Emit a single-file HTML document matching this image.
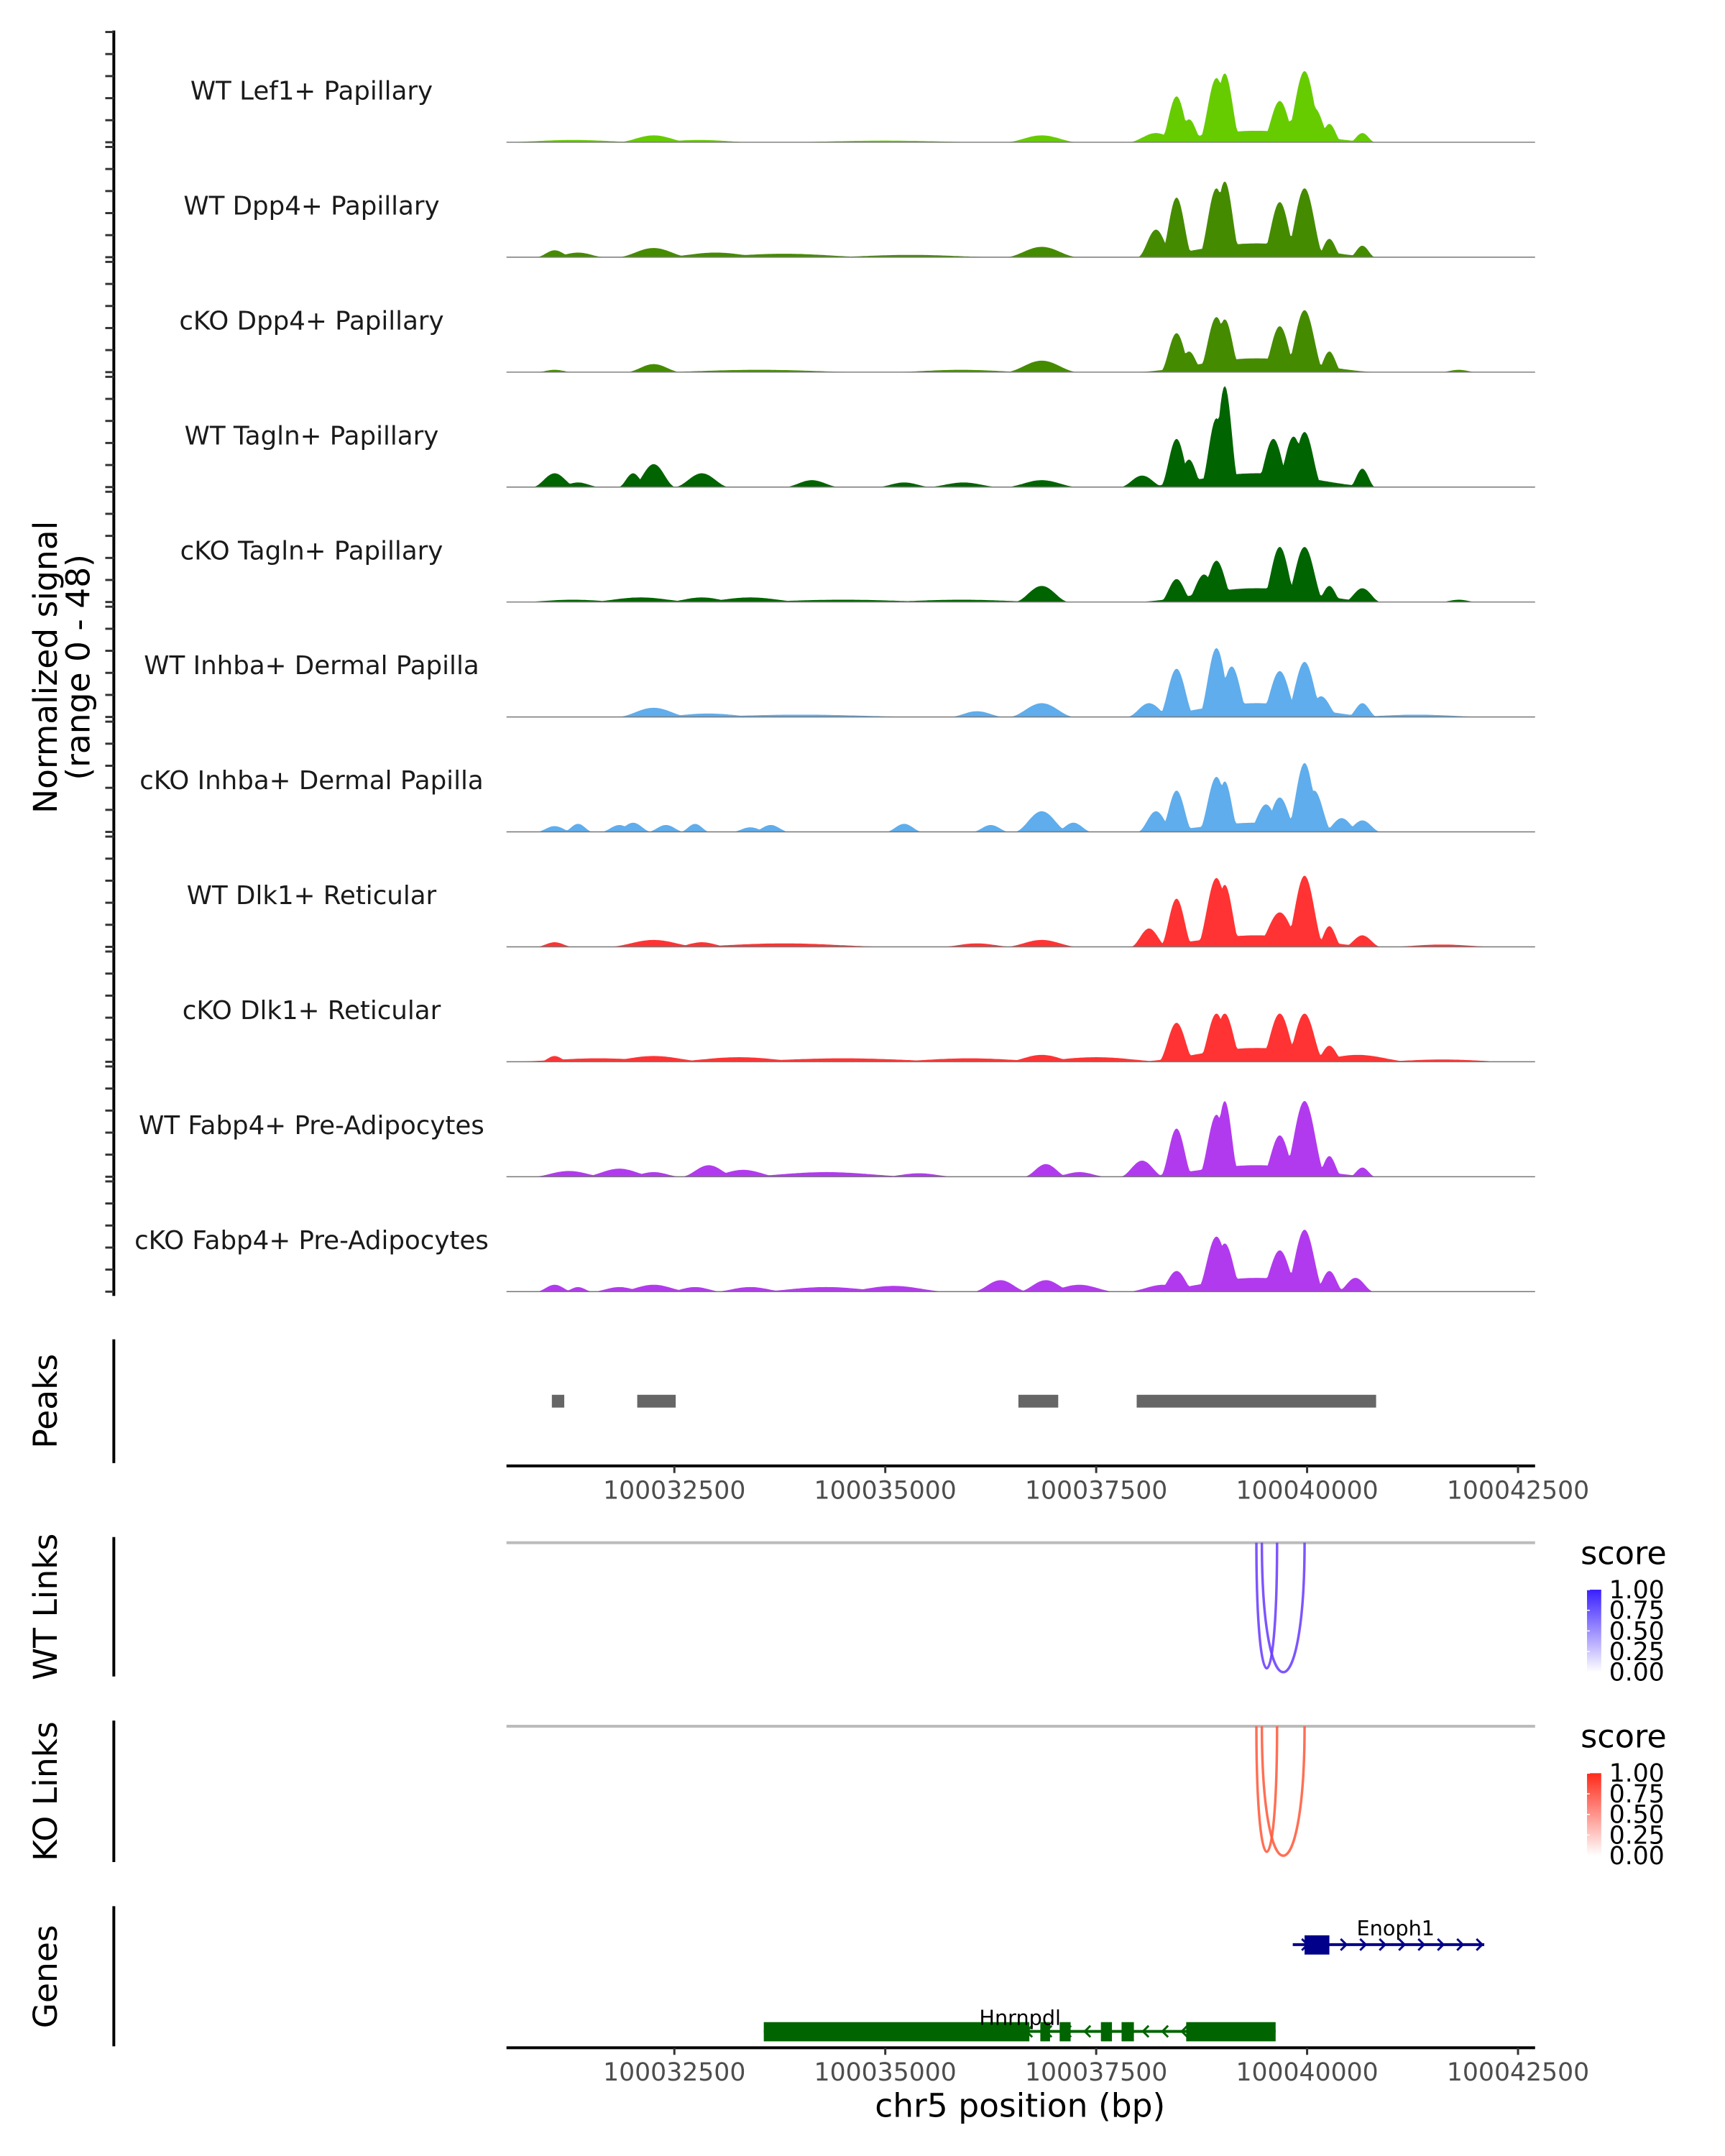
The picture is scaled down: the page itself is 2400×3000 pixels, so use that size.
<!DOCTYPE html>
<html><head><meta charset="utf-8"><style>
html,body{margin:0;padding:0;background:#fff;}
svg{display:block;font-family:"DejaVu Sans","Liberation Sans",sans-serif;}
</style></head><body>
<svg id="chart" width="2400" height="3000" viewBox="0 0 2400 3000" xmlns="http://www.w3.org/2000/svg">
<defs>
<linearGradient id="gBlue" x1="0" y1="1" x2="0" y2="0"><stop offset="0" stop-color="#ffffff"/><stop offset="1" stop-color="#3a1fff"/></linearGradient>
<linearGradient id="gRed" x1="0" y1="1" x2="0" y2="0"><stop offset="0" stop-color="#ffffff"/><stop offset="1" stop-color="#ff2a1a"/></linearGradient>
</defs>
<g transform="scale(0.9897)">
<g id="tracks"></g>
<g>
<text transform="translate(80,938) rotate(-90)" text-anchor="middle" font-size="46" fill="#000">Normalized signal</text>
<text transform="translate(126,938) rotate(-90)" text-anchor="middle" font-size="46" fill="#000">(range 0 - 48)</text>
</g>
<g id="peaks"></g>
<g id="links"></g>
<g id="genes"></g>
</g>
</svg>
<script>
const regionStart = 100030510, regionEnd = 100042700;
const tickValues = [100032500, 100035000, 100037500, 100040000, 100042500];
const trackNames = ["WT Lef1+ Papillary","WT Dpp4+ Papillary","cKO Dpp4+ Papillary","WT Tagln+ Papillary","cKO Tagln+ Papillary","WT Inhba+ Dermal Papilla","cKO Inhba+ Dermal Papilla","WT Dlk1+ Reticular","cKO Dlk1+ Reticular","WT Fabp4+ Pre-Adipocytes","cKO Fabp4+ Pre-Adipocytes"];
const trackColors = ["#66cc00","#458b00","#458b00","#006400","#006400","#5fadec","#5fadec","#ff3333","#ff3333","#b23aee","#b23aee"];
const yMax = 48;
// peaks per track: [bp, value, halfwidth bp]
const t1 = [[100031300,1,400],[100032255,3,200],[100032800,1,300],[100035000,0.7,600],[100036855,3,200],[100038209,4,150],[100038453,20,90],[100038600,10,80],[100038926,28,100],[100039024,30,90],[100039676,18,100],[100039840,10,100],[100039970,31,110],[100040084,15,100],[100040264,8,70],[100040655,4,70],[100039400,5,1500]];
const t2 = [[100031081,3,100],[100031358,2,150],[100032255,4,200],[100032989,2,300],[100033800,1.5,500],[100035300,1,500],[100036855,4.5,200],[100038209,12,100],[100038453,26,90],[100038926,30,100],[100039024,33,90],[100039676,24,100],[100039970,30,110],[100040264,8,70],[100040655,5,70],[100039400,6,1500]];
const t3 = [[100031081,1,100],[100032255,3.5,150],[100033500,1,600],[100035900,1,400],[100036855,5,200],[100038453,17,90],[100038600,9,80],[100038926,24,100],[100039024,23,90],[100039676,20,100],[100039970,27,110],[100040264,9,70],[100039400,6,1500],[100041797,1,100]];
const t4 = [[100031081,6,120],[100031358,2,120],[100032011,6,80],[100032255,10,120],[100032826,6,150],[100034131,3,150],[100035224,2,150],[100035925,2,200],[100036855,3,200],[100038045,5,120],[100038453,21,90],[100038600,12,80],[100038926,30,90],[100039024,44,80],[100039600,21,100],[100039840,22,100],[100039970,24,100],[100040655,8,70],[100039400,6,1500]];
const t5 = [[100031300,1,300],[100032100,2,300],[100032826,2,200],[100033400,2,300],[100034500,1,600],[100035900,1,500],[100036855,7,150],[100038453,10,90],[100038779,12,100],[100038926,18,100],[100039676,24,100],[100039970,24,110],[100040264,7,70],[100040655,6,100],[100041797,1,100],[100039400,6,1500]];
const t6 = [[100032255,4,200],[100032900,1.5,300],[100034000,1,700],[100036088,2.5,150],[100036855,6,180],[100038127,6,120],[100038453,21,100],[100038926,30,100],[100039106,22,100],[100039676,20,110],[100039970,24,110],[100040166,9,100],[100040655,6,80],[100041300,1,400],[100039400,6,1500]];
const t7 = [[100031081,2.5,100],[100031358,3.5,80],[100031848,3,100],[100032011,4,100],[100032400,3,100],[100032745,3.5,80],[100033400,2,100],[100033642,3,100],[100035224,3.5,100],[100036251,3,100],[100036855,9,150],[100037230,4,100],[100038209,9,100],[100038453,18,90],[100038926,24,100],[100039024,22,80],[100039513,12,100],[100039676,15,100],[100039970,30,100],[100040084,18,100],[100040410,6,100],[100040655,5,100],[100039400,4,1400]];
const t8 = [[100031081,2,100],[100032255,3,250],[100032826,2,150],[100033800,1.5,600],[100036088,1.5,200],[100036855,3,200],[100038127,8,100],[100038453,21,90],[100038926,30,110],[100039024,27,90],[100039676,15,130],[100039970,31,110],[100040264,9,70],[100040655,5,100],[100041600,1,300],[100039400,5,1500]];
const t9 = [[100031081,2.5,80],[100031600,1.5,500],[100032255,2.5,300],[100033267,2,400],[100034500,1.5,700],[100036000,1.5,500],[100036855,3,200],[100037500,2,400],[100038453,17,100],[100038926,21,100],[100039024,21,100],[100039676,21,110],[100039970,21,110],[100040264,7,80],[100040600,3,300],[100041600,1,400],[100039400,6,1500]];
const t10 = [[100031250,2.5,200],[100031848,3.5,200],[100032255,2,150],[100032908,5,150],[100033316,3,200],[100034300,2,500],[100035400,1.5,200],[100036904,5.5,120],[100037300,2,150],[100038045,7,120],[100038453,21,90],[100038926,27,100],[100039024,33,80],[100039676,18,100],[100039970,33,120],[100040264,9,70],[100040655,4,70],[100039400,5,1500]];
const t11 = [[100031081,3,100],[100031358,2,80],[100031848,2,150],[100032255,3,200],[100032745,2,150],[100033400,2,200],[100034300,2,400],[100035100,2.5,300],[100036366,5,150],[100036904,5,150],[100037300,3,200],[100038300,3,200],[100038453,9,100],[100038926,24,110],[100039024,21,100],[100039676,18,110],[100039970,27,110],[100040264,9,80],[100040574,6,100],[100039400,6,1400]];
const trackPeaks = [t1,t2,t3,t4,t5,t6,t7,t8,t9,t10,t11];
const peakStarts = [100031048, 100032060, 100036578, 100037980];
const peakEnds = [100031195, 100032516, 100037050, 100040818];
const wtLinkStart = [100039399, 100039464];
const wtLinkEnd = [100039644, 100039970];
const wtLinkScore = [0.75, 0.75];
const koLinkStart = [100039399, 100039464];
const koLinkEnd = [100039644, 100039970];
const koLinkScore = [0.75, 0.75];
const legendTicks = ["1.00","0.75","0.50","0.25","0.00"];
const enophExons = [[100039970, 100040264]];
const hnrnpdlExons = [[100033560,100036708],[100036838,100036953],[100037067,100037197],[100037556,100037687],[100037801,100037947],[100038567,100039627]];

const NS = "http://www.w3.org/2000/svg";
const X0 = 712, X1 = 2158;
const KW = 2.2;
function xs(bp){ return 651.5 + (bp - 100030000) * 0.1186; }
function mk(tag, attrs, parent){ const e = document.createElementNS(NS, tag); for (const k in attrs) e.setAttribute(k, attrs[k]); parent.appendChild(e); return e; }

const gT = document.getElementById('tracks');
const trackTop0 = 45, trackStep = 161.6, trackH = 155;
const axis = mk('line', {x1:160,y1:43,x2:160,y2:1822,stroke:'#000','stroke-width':4}, gT);


trackPeaks.forEach((pk, i) => {
  const top = trackTop0 + i * trackStep, base = top + trackH;
  const g = mk('g', {}, gT);
  
  
  for (let k = 0; k <= 5; k++) {
    const t = mk('line', {x1:148,x2:160,y1:top + k * trackH / 5,y2:top + k * trackH / 5,stroke:'#333','stroke-width':3}, g);
    
    
  }
  let d = 'M' + X0 + ',' + base;
  for (let px = X0; px <= X1; px += 2) {
    const bp = 100030000 + (px - 651.5) / 0.1186;
    let v = 0;
    pk.forEach(p => { const w = p[2] >= 1000 ? p[2] : p[2] * KW; const dd = Math.abs(bp - p[0]); if (dd < w) v = Math.max(v, p[1] * (0.5 + 0.5 * Math.cos(Math.PI * dd / w))); });
    if (bp > 100042150) v = 0;
    d += 'L' + px + ',' + (base - Math.min(v, yMax) * trackH / yMax).toFixed(1);
  }
  d += 'L' + X1 + ',' + base + 'Z';
  const area = mk('path', {d:d, fill:trackColors[i]}, g);
  
  
  const bl = mk('line', {x1:X0,x2:X1,y1:base,y2:base,stroke:'#777','stroke-width':1.5}, g);
  
  
  const lab = mk('text', {x:438,y:base - 60,'text-anchor':'middle','font-size':36,fill:'#1a1a1a'}, g);
  lab.textContent = trackNames[i];
  
  
});

function xAxis(parent, y){
  const g = mk('g', {}, parent);
  
  
  mk('line', {x1:X0,x2:X1,y1:y,y2:y,stroke:'#000','stroke-width':4}, g);
  tickValues.forEach(v => {
    const x = xs(v);
    mk('line', {x1:x,x2:x,y1:y,y2:y + 10,stroke:'#333','stroke-width':3}, g);
    const t = mk('text', {x:x,y:y + 46,'text-anchor':'middle','font-size':35,fill:'#4d4d4d'}, g);
    t.textContent = v;
    
    
  });
}
function sideLabel(parent, text, y, y1, y2, name){
  const l = mk('line', {x1:160,x2:160,y1:y1,y2:y2,stroke:'#000','stroke-width':4}, parent);
  
  
  const t = mk('text', {transform:'translate(80,' + y + ') rotate(-90)','text-anchor':'middle','font-size':46,fill:'#000'}, parent);
  t.textContent = text;
  
  
}

const gP = document.getElementById('peaks');
sideLabel(gP, 'Peaks', 1970, 1883, 2057, 'peaks');
peakStarts.forEach((s, i) => {
  const r = mk('rect', {x:xs(s),y:1961,width:xs(peakEnds[i]) - xs(s),height:18,fill:'#666'}, gP);
  
  
});
xAxis(gP, 2061);

const gL = document.getElementById('links');
function linkTrack(label, top, bottom, y1, y2, starts, ends, scores, color, grad, name){
  const g = mk('g', {}, gL);
  
  
  sideLabel(g, label, (y1 + y2) / 2, y1, y2, name);
  mk('line', {x1:X0,x2:X1,y1:top,y2:top,stroke:'#bbb','stroke-width':4}, g);
  starts.forEach((s, i) => {
    const a = xs(s), b = xs(ends[i]);
    const depth = (bottom - top) * (0.97 + 0.03 * i);
    const c = top + depth / 0.75;
    const p = mk('path', {d:'M' + a + ',' + top + ' C' + a + ',' + c + ' ' + b + ',' + c + ' ' + b + ',' + top, fill:'none', stroke:color, 'stroke-width':3.5, 'stroke-opacity':0.5 + 0.5 * scores[i]}, g);
    
    
  });
  const lg = mk('g', {}, g);
  
  
  const st = mk('text', {x:2222,y:top + 30,'font-size':45,fill:'#000'}, lg);
  st.textContent = 'score';
  const by = top + 66;
  mk('rect', {x:2231,y:by,width:20,height:116,fill:'url(#' + grad + ')'}, lg);
  legendTicks.forEach((t, k) => {
    const yy = by + k * 29;
    mk('line', {x1:2231,x2:2235,y1:yy,y2:yy,stroke:'#fff','stroke-width':1.5}, lg);
    const tx = mk('text', {x:2262,y:yy + 12,'font-size':35,fill:'#000'}, lg);
    tx.textContent = t;
  });
}
linkTrack('WT Links', 2169, 2351, 2161, 2357, wtLinkStart, wtLinkEnd, wtLinkScore, '#6a3dff', 'gBlue', 'wt-links');
linkTrack('KO Links', 2427, 2609, 2419, 2618, koLinkStart, koLinkEnd, koLinkScore, '#ff5a3c', 'gRed', 'ko-links');

const gG = document.getElementById('genes');
sideLabel(gG, 'Genes', 2779, 2680, 2877, 'genes');
function gene(name, start, end, exons, y, color, dir, labelX, labelY){
  const g = mk('g', {}, gG);
  
  
  mk('line', {x1:xs(start),x2:xs(end),y1:y,y2:y,stroke:color,'stroke-width':4}, g);
  for (let bp = start + 150; bp < end; bp += 230) {
    const x = xs(bp);
    mk('path', {d: dir > 0 ? 'M' + (x - 5) + ',' + (y - 8) + ' L' + (x + 3) + ',' + y + ' L' + (x - 5) + ',' + (y + 8) : 'M' + (x + 5) + ',' + (y - 8) + ' L' + (x - 3) + ',' + y + ' L' + (x + 5) + ',' + (y + 8), fill:'none', stroke:color, 'stroke-width':3}, g);
  }
  exons.forEach(e => {
    const r = mk('rect', {x:xs(e[0]),y:y - 13,width:xs(e[1]) - xs(e[0]),height:27,fill:color}, g);
    
    
  });
  const t = mk('text', {x:labelX,y:labelY,'text-anchor':'middle','font-size':29,fill:'#000'}, g);
  t.textContent = name;
}
gene('Enoph1', 100039830, 100042100, enophExons, 2734, '#00008b', 1, 1962, 2721);
gene('Hnrnpdl', 100033560, 100039627, hnrnpdlExons, 2856, '#006400', -1, 1434, 2847);
xAxis(gG, 2879);
const xt = mk('text', {x:1434,y:2976,'text-anchor':'middle','font-size':46,fill:'#000'}, gG);
xt.textContent = 'chr5 position (bp)';


</script>
</body></html>
